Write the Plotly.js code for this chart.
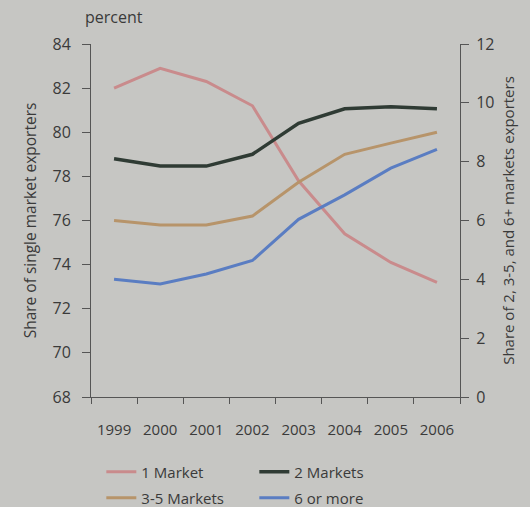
<!DOCTYPE html>
<html>
<head>
<meta charset="utf-8">
<script src="https://cdn.plot.ly/plotly-3.0.1.min.js"></script>
<style>html,body{margin:0;padding:0;background:#c6c6c3;}#chart{width:530px;height:507px;}</style>
</head>
<body>
<div id="chart"></div>
<script>
const years = ['1999','2000','2001','2002','2003','2004','2005','2006'];
const oneMarket = [82.0, 82.9, 82.3, 81.2, 77.8, 75.4, 74.1, 73.2];
const twoMarkets = [8.1, 7.85, 7.85, 8.25, 9.3, 9.8, 9.87, 9.8];
const threeToFive = [6.0, 5.85, 5.85, 6.15, 7.3, 8.25, 8.63, 9.0];
const sixOrMore = [4.0, 3.84, 4.18, 4.64, 6.04, 6.87, 7.78, 8.42];
const seriesNames = ['1 Market', '2 Markets', '3-5 Markets', '6 or more'];

const font = 'Open Sans, Noto Sans, sans-serif';
const txt = '#3a3a3a';
const traces = [
  {x: years, y: oneMarket, name: seriesNames[0], yaxis: 'y', legend: 'legend', line: {color: '#c98b8c', width: 3}},
  {x: years, y: twoMarkets, name: seriesNames[1], yaxis: 'y2', legend: 'legend', line: {color: '#2f3b34', width: 3.5}},
  {x: years, y: threeToFive, name: seriesNames[2], yaxis: 'y2', legend: 'legend2', line: {color: '#b7946a', width: 3}},
  {x: years, y: sixOrMore, name: seriesNames[3], yaxis: 'y2', legend: 'legend2', line: {color: '#5a7dc2', width: 3}}
].map(t => Object.assign({type: 'scatter', mode: 'lines'}, t));

const legendBase = {orientation: 'h', xanchor: 'left', yanchor: 'middle',
  entrywidth: 108, entrywidthmode: 'pixels', font: {size: 15, color: txt},
  bgcolor: 'rgba(0,0,0,0)', borderwidth: 0};

const layout = {
  width: 530, height: 507,
  paper_bgcolor: '#c6c6c3', plot_bgcolor: '#c6c6c3',
  margin: {l: 91, r: 70, t: 44, b: 110, autoexpand: false},
  font: {family: font, color: txt, size: 15},
  showlegend: true,
  legend: Object.assign({}, legendBase, {x: 0.028, y: -0.2125}),
  legend2: Object.assign({}, legendBase, {x: 0.028, y: -0.286}),
  xaxis: {type: 'category', tickson: 'boundaries', ticks: 'outside', ticklen: 6,
          tickcolor: '#555', showline: true, linecolor: '#555', linewidth: 1,
          showgrid: false, zeroline: false, ticklabelstandoff: 19,
          tickfont: {size: 15, color: txt}, range: [-0.5, 7.5]},
  yaxis: {range: [68, 84], dtick: 2, ticks: 'outside', ticklen: 8, tickcolor: '#555',
          showline: true, linecolor: '#555', linewidth: 1, showgrid: false, zeroline: false,
          ticklabelstandoff: 8, tickfont: {size: 16, color: txt},
          title: {text: 'Share of single market exporters', font: {size: 15.5, color: txt}, standoff: 12}},
  yaxis2: {range: [0, 12], dtick: 2, overlaying: 'y', side: 'right', ticks: 'outside', ticklen: 8,
           tickcolor: '#555', showline: true, linecolor: '#555', linewidth: 1, showgrid: false,
           zeroline: false, ticklabelstandoff: 4, tickfont: {size: 16, color: txt},
           title: {text: 'Share of 2, 3-5, and 6+ markets exporters', font: {size: 15, color: txt}, standoff: 10}},
  annotations: [{text: 'percent', xref: 'paper', yref: 'paper', x: 0.062, y: 1.0, yshift: 27,
                 xanchor: 'center', yanchor: 'middle', showarrow: false, font: {size: 16, color: txt}}]
};
Plotly.newPlot('chart', traces, layout, {displayModeBar: false, staticPlot: true});
</script>
</body>
</html>
